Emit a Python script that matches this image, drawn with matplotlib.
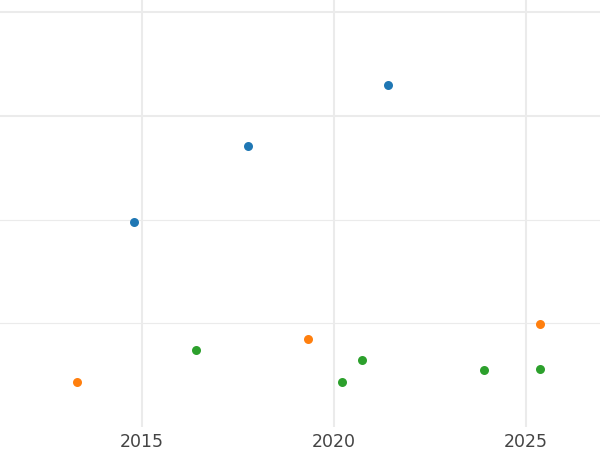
import matplotlib
matplotlib.use("Agg")
import matplotlib.pyplot as plt

# Data (y in arbitrary units, no y labels shown)
blue_x = [2014.80, 2017.76, 2021.40]
blue_y = [19.74, 27.07, 32.92]
orange_x = [2013.30, 2019.33, 2025.38]
orange_y = [4.38, 8.49, 9.97]
green_x = [2016.41, 2020.22, 2020.73, 2023.92, 2025.38]
green_y = [7.46, 4.34, 6.50, 5.54, 5.63]

x_ticks = [2015, 2020, 2025]
x_tick_labels = ["2015", "2020", "2025"]
y_grid = [10, 20, 30, 40]

fig = plt.figure(figsize=(6, 4.5), dpi=100)
ax = fig.add_axes([0, 23 / 450, 1, 427 / 450])

ax.set_xlim(2011.30, 2026.93)
ax.set_ylim(0, 41.16)

for v in y_grid:
    lw = 1.5 if v >= 30 else 0.8
    ax.axhline(v, color="#ebebeb", linewidth=lw, zorder=0)
for v in x_ticks:
    ax.axvline(v, color="#ebebeb", linewidth=1.5, zorder=0)

ax.scatter(blue_x, blue_y, s=42, color="#1f77b4", zorder=3, linewidths=0)
ax.scatter(orange_x, orange_y, s=42, color="#ff7f0e", zorder=3, linewidths=0)
ax.scatter(green_x, green_y, s=42, color="#2ca02c", zorder=3, linewidths=0)

ax.set_xticks(x_ticks)
ax.set_xticklabels(x_tick_labels)
ax.set_yticks([])
ax.tick_params(axis="x", length=0, pad=4, labelsize=12.5, labelcolor="#444444")
for s in ax.spines.values():
    s.set_visible(False)

fig.savefig("out.png", dpi=100)
